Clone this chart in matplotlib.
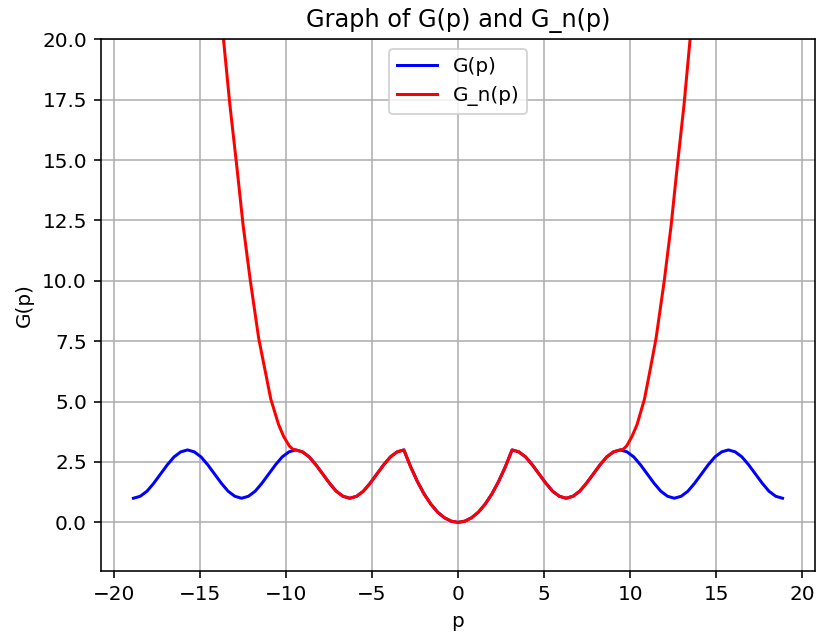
import matplotlib.pyplot as plt
import numpy as np

# sample points of p, step pi/8 from -6pi to 6pi
p = [-18.850, -18.457, -18.064, -17.671, -17.279, -16.886, -16.493, -16.100,
     -15.708, -15.315, -14.923, -14.530, -14.137, -13.744, -13.352, -12.959,
     -12.566, -12.174, -11.781, -11.388, -10.996, -10.603, -10.210, -9.817,
     -9.425, -9.032, -8.639, -8.247, -7.854, -7.461, -7.069, -6.676,
     -6.283, -5.890, -5.498, -5.105, -4.712, -4.320, -3.927, -3.534,
     -3.142, -2.749, -2.356, -1.963, -1.571, -1.178, -0.785, -0.393,
     0.000,
     0.393, 0.785, 1.178, 1.571, 1.963, 2.356, 2.749, 3.142,
     3.534, 3.927, 4.320, 4.712, 5.105, 5.498, 5.890, 6.283,
     6.676, 7.069, 7.461, 7.854, 8.247, 8.639, 9.032, 9.425,
     9.817, 10.210, 10.603, 10.996, 11.388, 11.781, 12.174, 12.566,
     12.959, 13.352, 13.744, 14.137, 14.530, 14.923, 15.315, 15.708,
     16.100, 16.493, 16.886, 17.279, 17.671, 18.064, 18.457, 18.850]

G = [1.00, 1.08, 1.29, 1.62, 2.00, 2.38, 2.71, 2.92,
     3.00, 2.92, 2.71, 2.38, 2.00, 1.62, 1.29, 1.08,
     1.00, 1.08, 1.29, 1.62, 2.00, 2.38, 2.71, 2.92,
     3.00, 2.92, 2.71, 2.38, 2.00, 1.62, 1.29, 1.08,
     1.00, 1.08, 1.29, 1.62, 2.00, 2.38, 2.71, 2.92,
     3.00, 2.30, 1.69, 1.17, 0.75, 0.42, 0.19, 0.05,
     0.00,
     0.05, 0.19, 0.42, 0.75, 1.17, 1.69, 2.30, 3.00,
     2.92, 2.71, 2.38, 2.00, 1.62, 1.29, 1.08, 1.00,
     1.08, 1.29, 1.62, 2.00, 2.38, 2.71, 2.92, 3.00,
     2.92, 2.71, 2.38, 2.00, 1.62, 1.29, 1.08, 1.00,
     1.08, 1.29, 1.62, 2.00, 2.38, 2.71, 2.92, 3.00,
     2.92, 2.71, 2.38, 2.00, 1.62, 1.29, 1.08, 1.00]

# G_n(p) follows G(p) on [-3pi, 3pi] and climbs away outside it
pn_left = [-13.92, -13.62, -13.25, -12.84, -12.48, -12.06, -11.57,
           -11.22, -10.87, -10.42, -10.12, -9.80, -9.60]
Gn_left = [22.5, 20.0, 17.3, 14.7, 12.3, 10.0, 7.6,
           6.35, 5.1, 4.05, 3.55, 3.17, 3.03]
pn_right = [9.60, 9.80, 10.10, 10.40, 10.83, 11.17, 11.50,
            11.98, 12.38, 12.73, 13.13, 13.48, 13.78]
Gn_right = [3.03, 3.17, 3.55, 4.05, 5.1, 6.35, 7.6,
            10.0, 12.3, 14.7, 17.3, 20.0, 22.5]

p_arr = np.array(p)
G_arr = np.array(G)
core = (p_arr >= -9.43) & (p_arr <= 9.43)
p_n = np.concatenate([pn_left, p_arr[core], pn_right])
G_n = np.concatenate([Gn_left, G_arr[core], Gn_right])

fig = plt.figure(figsize=(819 / 144, 639 / 144), dpi=144)
ax = fig.add_axes([0.1233, 0.1069, 0.8718, 0.8316])

ax.plot(p_arr, G_arr, 'b', label='G(p)')
ax.plot(p_n, G_n, 'r', label='G_n(p)')
ax.set_ylim(-2, 20)
ax.set_xlabel('p')
ax.set_ylabel('G(p)')
ax.set_title('Graph of G(p) and G_n(p)')
ax.legend(loc='upper center')
ax.grid(True)

fig.savefig('out.png', dpi=144)
